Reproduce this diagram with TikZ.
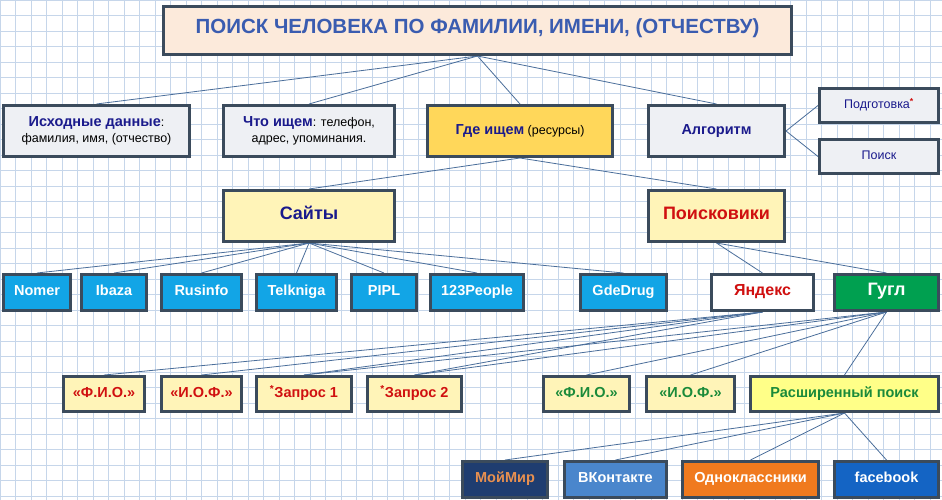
\documentclass[tikz,border=0pt]{standalone}
\usepackage{fontspec}
\setmainfont{Liberation Sans}
\definecolor{edge}{HTML}{3B4B5C}
\definecolor{link}{HTML}{4A6E9A}
\definecolor{titlebg}{HTML}{FCEADB}
\definecolor{titletx}{HTML}{3A5CB0}
\definecolor{navy}{HTML}{1A1A8C}
\definecolor{greybg}{HTML}{EEF0F4}
\definecolor{gold}{HTML}{FFD75A}
\definecolor{paleyel}{HTML}{FFF4B8}
\definecolor{cyanbg}{HTML}{12A5E6}
\definecolor{redtx}{HTML}{D01010}
\definecolor{greentx}{HTML}{1A8A3A}
\definecolor{googl}{HTML}{00A050}
\definecolor{brightyel}{HTML}{FFFF88}
\definecolor{mirbg}{HTML}{1F3D70}
\definecolor{mirtx}{HTML}{E89050}
\definecolor{vkbg}{HTML}{4A86CC}
\definecolor{okbg}{HTML}{F07A1E}
\definecolor{fbbg}{HTML}{1464C4}
\definecolor{gridc}{HTML}{C6D6EA}
\usetikzlibrary{positioning,backgrounds}
\newcommand{\titletx}{\fontsize{20.5}{24}\selectfont\bfseries}
\newcommand{\bigtx}{\fontsize{18}{21}\selectfont\bfseries}
\newcommand{\midtx}{\fontsize{14.5}{17}\selectfont\bfseries}
\newcommand{\smltx}{\fontsize{12.5}{16}\selectfont}

\begin{document}
\begin{tikzpicture}[x=1pt,y=-1pt]
    % Use sans-serif font
    \tikzstyle{every node}=[font=\midtx]
    \tikzstyle{box}=[draw=edge, line width=3pt, rectangle, anchor=north west, inner sep=0pt, align=center]
    \tikzstyle{cell}=[box, text height=1.3ex, text depth=0ex]
    \tikzstyle{wire}=[draw=link, line width=0.8pt]

    % Draw the grid
    \useasboundingbox (0,0) rectangle (942,500);
    \begin{pgfonlayer}{background}
    \fill[white] (0,0) rectangle (942,500);
    \draw[step=15.5pt,gridc,line width=0.6pt] (0,0) grid (942,500);
    \end{pgfonlayer}

    % Top levels
    \node[cell, fill=titlebg, text=titletx, font=\titletx, minimum width=628pt, minimum height=48pt] (title) at (162,5) {ПОИСК ЧЕЛОВЕКА ПО ФАМИЛИИ, ИМЕНИ, (ОТЧЕСТВУ)};
    \node[box, fill=greybg, minimum width=186pt, minimum height=51pt, font=\smltx] (source) at (2,104) {{\midtx\color{navy}Исходные данные}:\\фамилия, имя, (отчество)};
    \node[box, fill=greybg, minimum width=171pt, minimum height=51pt, font=\smltx] (what) at (222,104) {{\midtx\color{navy}Что ищем}: телефон,\\адрес, упоминания.};
    \node[cell, fill=gold, minimum width=185pt, minimum height=51pt, font=\smltx] (where) at (426,104) {{\midtx\color{navy}Где ищем} (ресурсы)};
    \node[cell, fill=greybg, text=navy, minimum width=136pt, minimum height=51pt] (algo) at (647,104) {Алгоритм};
    \node[cell, fill=greybg, text=navy, font=\smltx, minimum width=119pt, minimum height=34pt] (prep) at (818,87) {Подготовка{\color{redtx}\textsuperscript{\bfseries*}}};
    \node[cell, fill=greybg, text=navy, font=\smltx, minimum width=119pt, minimum height=34pt] (find) at (818,138) {Поиск};

    % Resources
    \node[cell, fill=paleyel, text=navy, font=\bigtx, minimum width=171pt, minimum height=51pt] (sites) at (222,189) {Сайты};
    \node[cell, fill=paleyel, text=redtx, font=\bigtx, minimum width=136pt, minimum height=51pt] (engines) at (647,189) {Поисковики};

    % Sites
    \foreach \name/\x/\w/\label in {nomer/2/67/Nomer, ibaza/80/65/Ibaza, rusinfo/160/80/Rusinfo, telkniga/255/80/Telkniga, pipl/350/65/PIPL, people/429/93/123People, gdedrug/579/86/GdeDrug}
        \node[cell, fill=cyanbg, text=white, minimum width=\w pt, minimum height=36pt] (\name) at (\x,273) {\label};
    \node[cell, fill=white, text=redtx, font=\fontsize{16}{19}\selectfont\bfseries, minimum width=102pt, minimum height=36pt] (yandex) at (710,273) {Яндекс};
    \node[cell, fill=googl, text=white, font=\bigtx, minimum width=104pt, minimum height=36pt] (google) at (833,273) {Гугл};

    % Queries
    \foreach \name/\x/\w/\label in {yfio/62/81/«Ф.И.О.», yiof/160/80/«И.О.Ф.», query1/255/95/\textsuperscript{*}Запрос 1, query2/366/94/\textsuperscript{*}Запрос 2}
        \node[cell, fill=paleyel, text=redtx, minimum width=\w pt, minimum height=35pt] (\name) at (\x,375) {\label};
    \node[cell, fill=paleyel, text=greentx, minimum width=86pt, minimum height=35pt] (gfio) at (542,375) {«Ф.И.О.»};
    \node[cell, fill=paleyel, text=greentx, minimum width=88pt, minimum height=35pt] (giof) at (645,375) {«И.О.Ф.»};
    \node[cell, fill=brightyel, text=greentx, minimum width=188pt, minimum height=35pt] (extended) at (749,375) {Расширенный поиск};

    % Social networks
    \node[cell, fill=mirbg, text=mirtx, minimum width=85pt, minimum height=36pt] (moimir) at (461,460) {МойМир};
    \node[cell, fill=vkbg, text=white, minimum width=102pt, minimum height=36pt] (vk) at (563,460) {ВКонтакте};
    \node[cell, fill=okbg, text=white, minimum width=136pt, minimum height=36pt] (ok) at (681,460) {Одноклассники};
    \node[cell, fill=fbbg, text=white, minimum width=104pt, minimum height=36pt] (fb) at (833,460) {facebook};

    % Connectors, behind the boxes
    \begin{pgfonlayer}{background}
    \foreach \b in {source,what,where,algo} \draw[wire] (title.south) -- (\b.north);
    \foreach \b in {sites,engines} \draw[wire] (where.south) -- (\b.north);
    \foreach \b in {prep,find} \draw[wire] (algo.east) -- (\b.west);
    \foreach \b in {nomer,ibaza,rusinfo,telkniga,pipl,people,gdedrug} \draw[wire] (sites.south) -- (\b.north);
    \foreach \b in {yandex,google} \draw[wire] (engines.south) -- (\b.north);
    \foreach \b in {yfio,yiof,query1,query2} \draw[wire] (yandex.south) -- (\b.north);
    \foreach \b in {query1,query2,gfio,giof,extended} \draw[wire] (google.south) -- (\b.north);
    \foreach \b in {moimir,vk,ok,fb} \draw[wire] (extended.south) -- (\b.north);
    \end{pgfonlayer}
\end{tikzpicture}
\end{document}
